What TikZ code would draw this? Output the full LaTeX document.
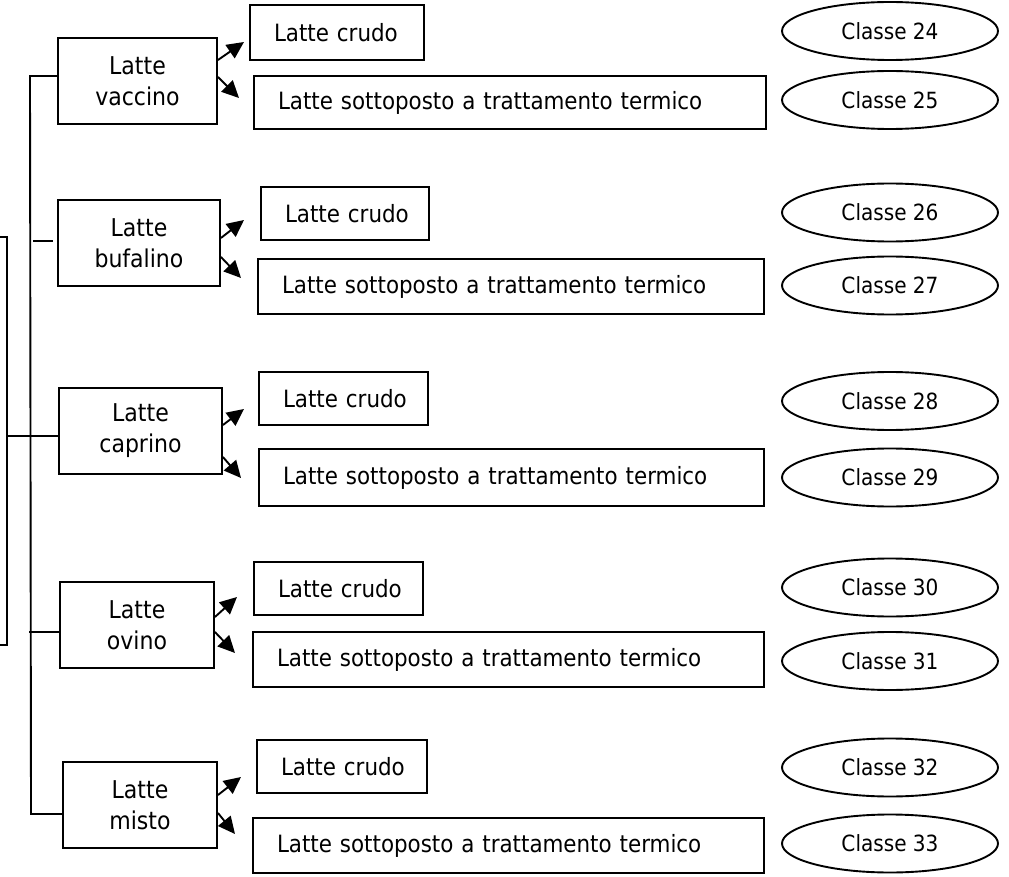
\documentclass[tikz,border=0pt]{standalone}
\usepackage{fontspec}
\setmainfont{DejaVu Sans Condensed}
\usetikzlibrary{arrows.meta,calc,shapes.geometric}
\begin{document}
\begin{tikzpicture}[x=1pt,y=-1pt,
  box/.style={draw,line width=1.9pt,rectangle,inner sep=0pt},
  mid/.style={box,align=center,minimum height=86pt,font=\fontsize{24.5}{31}\selectfont},
  rbox/.style={box,align=left,inner xsep=24pt,font=\fontsize{23.8}{28}\selectfont},
  cls/.style={draw,line width=1.9pt,ellipse,inner sep=0pt,minimum width=216pt,minimum height=58pt,font=\fontsize{22.3}{26}\selectfont},
  arr/.style={line width=1.9pt,-{Triangle[length=17pt,width=16pt]}},
  ln/.style={line width=1.9pt}]
\useasboundingbox (0,0) rectangle (1009,877);
\clip (0,0) rectangle (1009,877);

% left box (partly outside)
\node[box,minimum width=40pt,minimum height=408pt] (lb) at (-13,441) {};

% middle boxes
\node[mid,minimum width=159pt] (m1) at (137.5,81) {Latte\\vaccino};
\node[mid,minimum width=162pt] (m2) at (139,243) {Latte\\bufalino};
\node[mid,minimum width=163pt] (m3) at (140.5,431) {Latte\\caprino};
\node[mid,minimum width=154pt] (m4) at (137,625) {Latte\\ovino};
\node[mid,minimum width=154pt] (m5) at (140,805) {Latte\\misto};

% right boxes
\node[rbox,minimum width=174pt,text width=126pt,minimum height=55pt] (r1a) at (337,32.5) {\mbox{Latte crudo}};
\node[rbox,minimum width=512pt,text width=464pt,minimum height=53pt] (r1b) at (510,102.5) {\mbox{Latte sottoposto a trattamento termico}};
\node[rbox,minimum width=168pt,text width=120pt,minimum height=53pt] (r2a) at (345,213.5) {\mbox{Latte crudo}};
\node[rbox,minimum width=506pt,text width=458pt,minimum height=55pt] (r2b) at (511,286.5) {\mbox{Latte sottoposto a trattamento termico}};
\node[rbox,minimum width=169pt,text width=121pt,minimum height=53pt] (r3a) at (343.5,398.5) {\mbox{Latte crudo}};
\node[rbox,minimum width=505pt,text width=457pt,minimum height=57pt] (r3b) at (511.5,477.5) {\mbox{Latte sottoposto a trattamento termico}};
\node[rbox,minimum width=169pt,text width=121pt,minimum height=53pt] (r4a) at (338.5,588.5) {\mbox{Latte crudo}};
\node[rbox,minimum width=511pt,text width=463pt,minimum height=55pt] (r4b) at (508.5,659.5) {\mbox{Latte sottoposto a trattamento termico}};
\node[rbox,minimum width=170pt,text width=122pt,minimum height=53pt] (r5a) at (342,766.5) {\mbox{Latte crudo}};
\node[rbox,minimum width=511pt,text width=463pt,minimum height=55pt] (r5b) at (508.5,845.5) {\mbox{Latte sottoposto a trattamento termico}};

% ellipses
\node[cls] (e24) at (890,31) {Classe 24};
\node[cls] (e25) at (890,100) {Classe 25};
\node[cls] (e26) at (890,212.5) {Classe 26};
\node[cls] (e27) at (890,285.5) {Classe 27};
\node[cls] (e28) at (890,401) {Classe 28};
\node[cls] (e29) at (890,477.5) {Classe 29};
\node[cls] (e30) at (890,587.5) {Classe 30};
\node[cls] (e31) at (890,661) {Classe 31};
\node[cls] (e32) at (890,767.5) {Classe 32};
\node[cls] (e33) at (890,843.5) {Classe 33};

% tree lines
\coordinate (s1) at (30,76);
\coordinate (s5) at (31,814);
\draw[ln] (m1.west |- s1) -- (s1) -- (s5) -- (m5.west |- s5);
\coordinate (b0) at (33,241);
\coordinate (b1) at (53,241);
\draw[ln] (b0) -- (b1);
\coordinate (c3) at (7,436);
\draw[ln] (c3) -- (c3 -| m3.west);
\coordinate (o4) at (29,632);
\draw[ln] (o4) -- (o4 -| m4.west);

% arrow tips
\coordinate (t1a) at (244,42);
\coordinate (t1b) at (239,98);
\coordinate (t2a) at (244,220);
\coordinate (t2b) at (241,278);
\coordinate (t3a) at (244,409);
\coordinate (t3b) at (241,478);
\coordinate (t4a) at (237,597);
\coordinate (t4b) at (235,653);
\coordinate (t5a) at (241,777);
\coordinate (t5b) at (235,834);

\draw[arr] ([yshift=21pt]m1.east) -- (t1a);
\draw[arr] ([yshift=4pt]m1.east) -- (t1b);
\draw[arr] ([yshift=5pt]m2.east) -- (t2a);
\draw[arr] ([yshift=-14pt]m2.east) -- (t2b);
\draw[arr] ([yshift=6pt]m3.east) -- (t3a);
\draw[arr] ([yshift=-26pt]m3.east) -- (t3b);
\draw[arr] ([yshift=8pt]m4.east) -- (t4a);
\draw[arr] ([yshift=-7pt]m4.east) -- (t4b);
\draw[arr] ([yshift=10pt]m5.east) -- (t5a);
\draw[arr] ([yshift=-8pt]m5.east) -- (t5b);
\end{tikzpicture}
\end{document}
